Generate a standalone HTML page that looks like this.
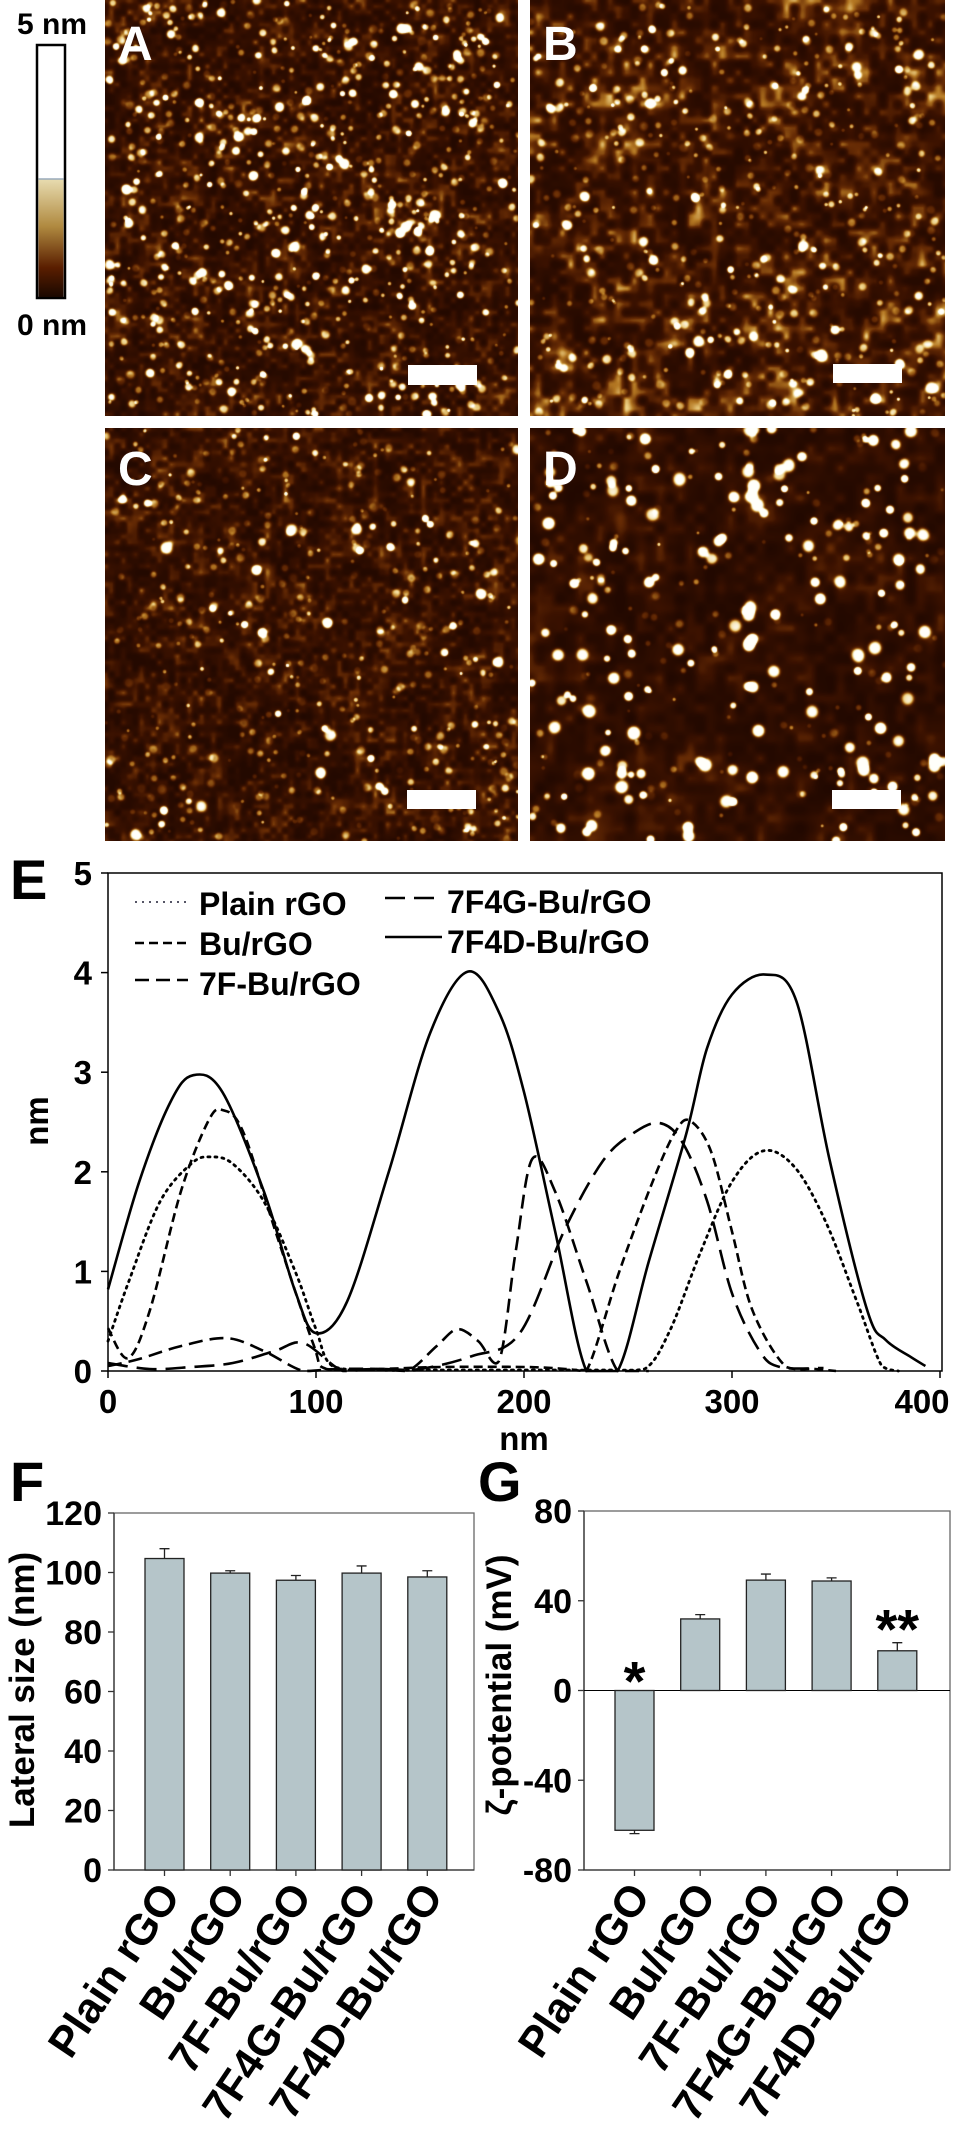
<!DOCTYPE html>
<html><head><meta charset="utf-8">
<style>
html,body{margin:0;padding:0;background:#fff;}
#root{position:relative;width:954px;height:2134px;overflow:hidden;font-family:"Liberation Sans",Arial,sans-serif;}
canvas{position:absolute;}
svg{position:absolute;left:0;top:0;}
text{font-family:"Liberation Sans",Arial,sans-serif;font-weight:bold;}
</style></head>
<body>
<div id="root">
<canvas id="cA" width="413" height="416" style="left:105px;top:0px"></canvas>
<canvas id="cB" width="415" height="416" style="left:530px;top:0px"></canvas>
<canvas id="cC" width="413" height="413" style="left:105px;top:428px"></canvas>
<canvas id="cD" width="415" height="413" style="left:530px;top:428px"></canvas>
<svg id="svg" width="954" height="2134">
<defs>
<linearGradient id="cbg" x1="0" y1="0" x2="0" y2="1">
<stop offset="0" stop-color="#e8dcb0"/><stop offset="0.4" stop-color="#b08a40"/><stop offset="0.75" stop-color="#5a1e00"/><stop offset="1" stop-color="#1a0800"/>
</linearGradient>
</defs>
<g>
<text x="52" y="34" font-size="30" text-anchor="middle">5 nm</text>
<rect x="37" y="45" width="28" height="253" fill="#fff" stroke="#000" stroke-width="2.5"/>
<rect x="38.5" y="179" width="25" height="118" fill="url(#cbg)"/>
<line x1="38.5" y1="179" x2="63.5" y2="179" stroke="#9ab" stroke-width="1.5"/>
<text x="52" y="335" font-size="30" text-anchor="middle">0 nm</text>
</g>
<g fill="#fff">
<text x="118" y="60" font-size="48">A</text>
<text x="543" y="60" font-size="48">B</text>
<text x="118" y="485" font-size="48">C</text>
<text x="543" y="485" font-size="48">D</text>
<rect x="408" y="365" width="69" height="20"/>
<rect x="833" y="364" width="69" height="19"/>
<rect x="407" y="790" width="69" height="19"/>
<rect x="832" y="790" width="69" height="19"/>
</g>
<text x="10" y="899" font-size="56">E</text>
<text x="10" y="1501" font-size="56">F</text>
<text x="478" y="1501" font-size="56">G</text>
<g id="gE"></g>
<g id="gF"></g>
<g id="gG"></g>
</svg>
</div>
<script>
// ===== Chart E data (height profiles) =====
const seriesNames = ["Plain rGO","Bu/rGO","7F-Bu/rGO","7F4G-Bu/rGO","7F4D-Bu/rGO"];
const plainX = [0,10,25,40,49,60,75,90,100,108,130,160,200,240,258,270,285,300,315,330,345,360,372,380];
const plainY = [0.3,0.9,1.7,2.08,2.15,2.08,1.7,1.0,0.42,0.05,0.01,0.01,0.01,0.01,0.02,0.4,1.2,1.9,2.21,2.05,1.5,0.7,0.05,0.0];
const buX = [0,9.6,20,35,48,55,65,81,98.7,105,130,160,200,220,230,246,262,273,280,290,300,310,326,340,350];
const buY = [0.43,0.13,0.6,1.8,2.5,2.62,2.4,1.37,0.27,0.02,0.02,0.04,0.04,0.02,0.0,1.01,1.91,2.41,2.51,2.2,1.4,0.6,0.04,0.02,0.0];
const f7X = [0,15,35,57,75,94,110,130,144,158,168,178,188,196,204,215,230,245,260];
const f7Y = [0.05,0.12,0.25,0.33,0.2,0.0,0.02,0.02,0.0,0.25,0.42,0.3,0.1,1.2,2.13,1.8,0.9,0.0,0.0];
const f4gX = [0,20,40,60,80,94,113,130,150,175,198,220,238,252,265,276,288,300,313,323,344];
const f4gY = [0.08,0.02,0.04,0.08,0.2,0.28,0.0,0.02,0.02,0.15,0.38,1.44,2.11,2.38,2.49,2.3,1.71,0.78,0.21,0.04,0.03];
const f4dX = [0,15,30,41,55,75,90,100,115,135,155,173,188,200,215,230,245,260,278,288,300,316,331,347,365,374,386,393];
const f4dY = [0.82,1.9,2.7,2.97,2.8,1.8,0.8,0.38,0.7,2.0,3.4,4.01,3.6,2.8,1.4,0.0,0.0,1.1,2.38,3.24,3.78,3.98,3.71,2.11,0.61,0.31,0.14,0.05];
const eXTicks = [0,100,200,300,400];
const eYTicks = [0,1,2,3,4,5];

// ===== Chart F/G data =====
const categories = ["Plain rGO","Bu/rGO","7F-Bu/rGO","7F4G-Bu/rGO","7F4D-Bu/rGO"];
const lateralSize = [104.7,99.8,97.4,99.8,98.5];
const lateralErr = [3.3,0.8,1.6,2.4,2.1];
const fYTicks = [0,20,40,60,80,100,120];
const zeta = [-62.3,31.9,49.2,48.8,17.7];
const zetaErr = [1.5,1.9,2.7,1.4,3.6];
const gYTicks = [-80,-40,0,40,80];
const zetaMarks = ["*","","","","**"];

const NS="http://www.w3.org/2000/svg";
function mk(parent,tag,attrs){const e=document.createElementNS(NS,tag);for(const k in attrs)e.setAttribute(k,attrs[k]);parent.appendChild(e);return e;}

// ---------- Chart E ----------
(function(){
const g=document.getElementById('gE');
const L=108,R=942,T=873,B=1371;
const xs=v=>L+(v/400)*(940-108);
const ys=v=>B-(v/5)*(B-T);
const frame=mk(g,'rect',{x:L,y:T,width:R-L,height:B-T,fill:'none',stroke:'#000','stroke-width':1.5});


eXTicks.forEach(v=>{
  const t=mk(g,'line',{x1:xs(v),x2:xs(v),y1:B,y2:B+7,stroke:'#000','stroke-width':1.5});
  
  
  const l=mk(g,'text',{x:Math.min(xs(v),922),y:B+42,'font-size':33,'text-anchor':'middle'});l.textContent=v;
  
  
});
eYTicks.forEach(v=>{
  const t=mk(g,'line',{x1:L-7,x2:L,y1:ys(v),y2:ys(v),stroke:'#000','stroke-width':1.5});
  
  
  const l=mk(g,'text',{x:L-16,y:ys(v)+12,'font-size':33,'text-anchor':'end'});l.textContent=v;
  
  
});
const xl=mk(g,'text',{x:524,y:1450,'font-size':33,'text-anchor':'middle'});xl.textContent='nm';


const yl=mk(g,'text',{x:0,y:0,'font-size':33,'text-anchor':'middle',transform:'translate(48,1121) rotate(-90)'});yl.textContent='nm';


function path(X,Y){
  const P=X.map((x,i)=>[xs(x),ys(Y[i])]);
  let d='M'+P[0][0]+','+P[0][1];
  for(let i=0;i<P.length-1;i++){
    const p0=P[Math.max(0,i-1)],p1=P[i],p2=P[i+1],p3=P[Math.min(P.length-1,i+2)];
    const c1=[p1[0]+(p2[0]-p0[0])/6,p1[1]+(p2[1]-p0[1])/6];
    const c2=[p2[0]-(p3[0]-p1[0])/6,p2[1]-(p3[1]-p1[1])/6];
    d+=' C'+c1[0].toFixed(1)+','+Math.min(B,c1[1]).toFixed(1)+' '+c2[0].toFixed(1)+','+Math.min(B,c2[1]).toFixed(1)+' '+p2[0].toFixed(1)+','+p2[1].toFixed(1);
  }
  return d;
}
const dashes=['2 5','9 5','14 7','20 9',''];
const sx=[plainX,buX,f7X,f4gX,f4dX],sy=[plainY,buY,f7Y,f4gY,f4dY];
const names=['series-plain-rgo','series-bu-rgo','series-7f-bu-rgo','series-7f4g-bu-rgo','series-7f4d-bu-rgo'];
for(let i=0;i<5;i++){
  const p=mk(g,'path',{d:path(sx[i],sy[i]),fill:'none',stroke:'#000','stroke-width':i==0?2.8:2.6,'stroke-dasharray':dashes[i],'stroke-linecap':i==0?'round':'butt'});
  
  
}
const leg=[[135,188,902,199,915],[135,188,943,199,955],[135,188,980,199,995],[385,442,898,447,913],[385,442,937,447,953]];
for(let i=0;i<5;i++){
  const [x1,x2,ly,tx,ty]=leg[i];
  const ln=mk(g,'line',{x1:x1,x2:x2,y1:ly,y2:ly,stroke:i==0?'#556':'#000','stroke-width':i==0?2:2.4,'stroke-dasharray':dashes[i]});
  
  
  const t=mk(g,'text',{x:tx,y:ty,'font-size':32});t.textContent=seriesNames[i];
  
  
}
})();

// ---------- bar chart helper ----------
function barChart(gid,L,R,T,B,ymin,ymax,vals,errs,ticks,marks){
  const g=document.getElementById(gid);
  const ys=v=>B-(v-ymin)/(ymax-ymin)*(B-T);
  const cx=i=>L+50.5+i*65.7;
  const fr=mk(g,'rect',{x:L,y:T,width:R-L,height:B-T,fill:'none',stroke:'#666','stroke-width':1.3});
  
  
  const ax=mk(g,'path',{d:`M${L},${T}V${B}H${R}`,fill:'none',stroke:'#333','stroke-width':1.3});
  
  
  ticks.forEach(v=>{
    const t=mk(g,'line',{x1:L-6,x2:L,y1:ys(v),y2:ys(v),stroke:'#333','stroke-width':1.3});
    
    
    const l=mk(g,'text',{x:L-12,y:ys(v)+12,'font-size':34,'text-anchor':'end'});l.textContent=v;
    
    
  });
  const y0=ys(Math.max(ymin,0));
  if(ymin<0){
    const zl=mk(g,'line',{x1:L,x2:R,y1:y0,y2:y0,stroke:'#000','stroke-width':1});
    
    
  }
  vals.forEach((v,i)=>{
    const c=cx(i),w=39;
    const top=Math.min(ys(v),y0),h=Math.abs(ys(v)-y0);
    const r=mk(g,'rect',{x:c-w/2,y:top,width:w,height:h,fill:'#b5c5c9',stroke:'#222','stroke-width':1.3});
    
    
    const e=v+(v>=0?errs[i]:-errs[i]);
    const el=mk(g,'path',{d:`M${c},${ys(v)}V${ys(e)}M${c-5},${ys(e)}H${c+5}`,stroke:'#222','stroke-width':1.3,fill:'none'});
    
    
    const t=mk(g,'line',{x1:c,x2:c,y1:B,y2:B+6,stroke:'#333','stroke-width':1.3});
    
    
    const l=mk(g,'text',{x:0,y:0,'font-size':43,'text-anchor':'end',transform:`translate(${c+17},${B+26}) rotate(-56)`});
    l.textContent=categories[i];
    
    
    if(marks&&marks[i]){
      const m=mk(g,'text',{x:c,y:v<0?y0+10:ys(e)+6,'font-size':56,'text-anchor':'middle'});
      m.textContent=marks[i];
      
      
    }
  });
  return g;
}
barChart('gF',114,474,1513,1870,0,120,lateralSize,lateralErr,fYTicks,null);
(function(){const g=document.getElementById('gF');
const l=mk(g,'text',{x:0,y:0,'font-size':35,'text-anchor':'middle',transform:'translate(34,1690) rotate(-90)'});l.textContent='Lateral size (nm)';

})();
barChart('gG',584,950,1511,1870,-80,80,zeta,zetaErr,gYTicks,zetaMarks);
(function(){const g=document.getElementById('gG');
const l=mk(g,'text',{x:0,y:0,'font-size':35,'text-anchor':'middle',transform:'translate(511,1685) rotate(-90)'});l.textContent='ζ-potential (mV)';

})();

// ---------- AFM textures ----------
function rng(a){return function(){a|=0;a=a+0x6D2B79F5|0;let t=Math.imul(a^a>>>15,1|a);t=t+Math.imul(t^t>>>7,61|t)^t;return((t^t>>>14)>>>0)/4294967296;}}
const cmap=[[0,25,5,0],[0.3,60,18,0],[0.5,105,45,5],[0.68,180,120,35],[0.83,238,210,135],[1,255,255,250]];
function col(t){t=Math.max(0,Math.min(1,t));for(let i=0;i<cmap.length-1;i++){const a=cmap[i],b=cmap[i+1];if(t<=b[0]){const f=(t-a[0])/(b[0]-a[0]);return[a[1]+f*(b[1]-a[1]),a[2]+f*(b[2]-a[2]),a[3]+f*(b[3]-a[3])];}}return cmap[cmap.length-1].slice(1);}
function afm(id,seed,base,amp,cell,nSmall,smallH,nRound,rr){
  const cv=document.getElementById(id),W=cv.width,H=cv.height,ctx=cv.getContext('2d');
  const r=rng(seed);const f=new Float32Array(W*H);
  const gw=Math.ceil(W/cell)+2,gh=Math.ceil(H/cell)+2,grid=[];
  for(let i=0;i<gw*gh;i++)grid.push(r());
  const c2=cell*3,gw2=Math.ceil(W/c2)+2,gh2=Math.ceil(H/c2)+2,grid2=[];
  for(let i=0;i<gw2*gh2;i++)grid2.push(r());
  function samp(gr,gwid,cl,x,y){const gx=x/cl,gy=y/cl,ix=Math.floor(gx),iy=Math.floor(gy),fx=gx-ix,fy=gy-iy;
    const sx=fx*fx*(3-2*fx),sy=fy*fy*(3-2*fy);
    const a=gr[iy*gwid+ix],b=gr[iy*gwid+ix+1],c=gr[(iy+1)*gwid+ix],d=gr[(iy+1)*gwid+ix+1];
    return a+(b-a)*sx+(c-a)*sy+(a-b-c+d)*sx*sy;}
  for(let y=0;y<H;y++)for(let x=0;x<W;x++){
    const v=0.6*samp(grid,gw,cell,x,y)+0.4*samp(grid2,gw2,c2,x,y);
    f[y*W+x]=base+amp*v*v*1.5;
  }
  function blob(cx,cy,rad,h){const R=Math.ceil(rad*2.2);for(let y=Math.max(0,Math.floor(cy-R));y<Math.min(H,cy+R);y++)for(let x=Math.max(0,Math.floor(cx-R));x<Math.min(W,cx+R);x++){const d2=((x-cx)**2+(y-cy)**2)/(rad*rad);f[y*W+x]+=h*Math.exp(-d2*d2*0.7);}}
  for(let i=0;i<nSmall;i++)blob(r()*W,r()*H,1.5+r()*3,smallH*(0.4+r()*0.8));
  for(let i=0;i<nRound;i++)blob(r()*W,r()*H,rr[0]+r()*(rr[1]-rr[0]),0.75+r()*0.4);
  const img=ctx.createImageData(W,H);
  for(let i=0;i<W*H;i++){const c=col(f[i]);img.data[i*4]=c[0];img.data[i*4+1]=c[1];img.data[i*4+2]=c[2];img.data[i*4+3]=255;}
  ctx.putImageData(img,0,0);
}
afm('cA',11,0.08,0.44,6,650,0.6,90,[2.5,5]);
afm('cB',23,0.10,0.55,8,450,0.5,30,[3,5.5]);
afm('cC',37,0.08,0.42,6,400,0.5,35,[3,6]);
afm('cD',51,0.07,0.32,10,150,0.45,170,[3,6.5]);
</script>
</body></html>
